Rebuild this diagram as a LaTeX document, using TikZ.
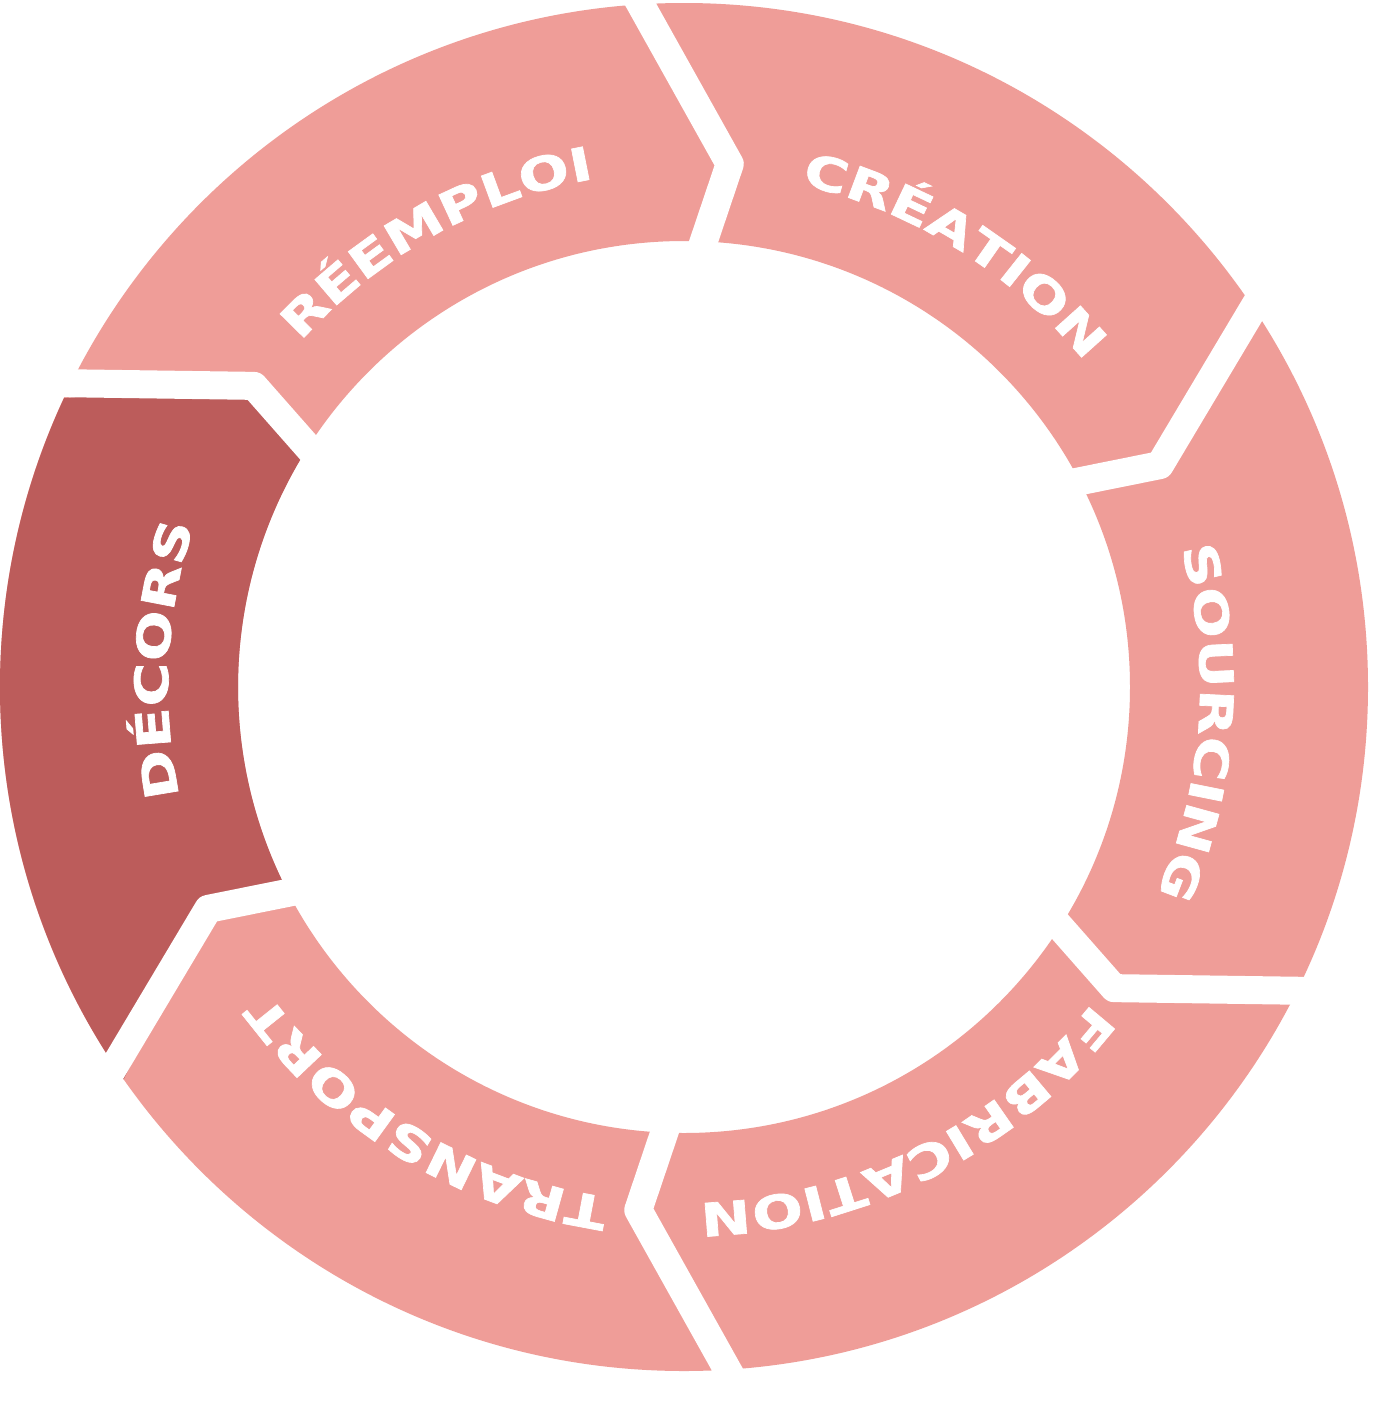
\documentclass[tikz,border=0pt]{standalone}
\usepackage{fontspec}
\usetikzlibrary{decorations.text}
\newfontfamily\lblfont[FakeStretch=1.3,FakeBold=1.5]{DejaVu Sans Bold}
\definecolor{segl}{HTML}{EF9D98}
\definecolor{segd}{HTML}{BC5C5B}
\newcommand\lbl{\color{white}\lblfont\fontsize{46}{46}\selectfont}
\tikzset{gapline/.style={white,line width=28,line join=round,line cap=butt},
  ringtext/.style={decorate,decoration={text along path,text align=center,text={|\lbl|#1}}}}
\begin{document}
\begin{tikzpicture}[x=1pt,y=1pt]
\useasboundingbox (0,0) rectangle (1377,-1408);
\fill[white] (0,0) rectangle (1377,-1408);
\begin{scope}[shift={(684,-687)}]
\fill[segl,even odd rule] (0,0) circle[radius=684] (0,0) circle[radius=446];
\fill[segd] (215:684) arc[start angle=215,end angle=155,radius=684] -- (145:525) -- (148.5:446) arc[start angle=148.5,end angle=208.5,radius=446] -- (205:525) -- cycle;
\foreach \t in {90,30,-30,-90,-150,150}
  \draw[gapline] ({\t+5}:720) -- ({\t-5}:525) -- ({\t-1.5}:420);
\foreach \c/\w in {119/RÉEMPLOI,58/CRÉATION,-4/SOURCING,-63/FABRICATION,-121/TRANSPORT,177/DÉCORS}
  \path[ringtext=\w] ({\c+45}:516) arc[start angle={\c+45},end angle={\c-45},radius=516];
\end{scope}
\end{tikzpicture}
\end{document}
